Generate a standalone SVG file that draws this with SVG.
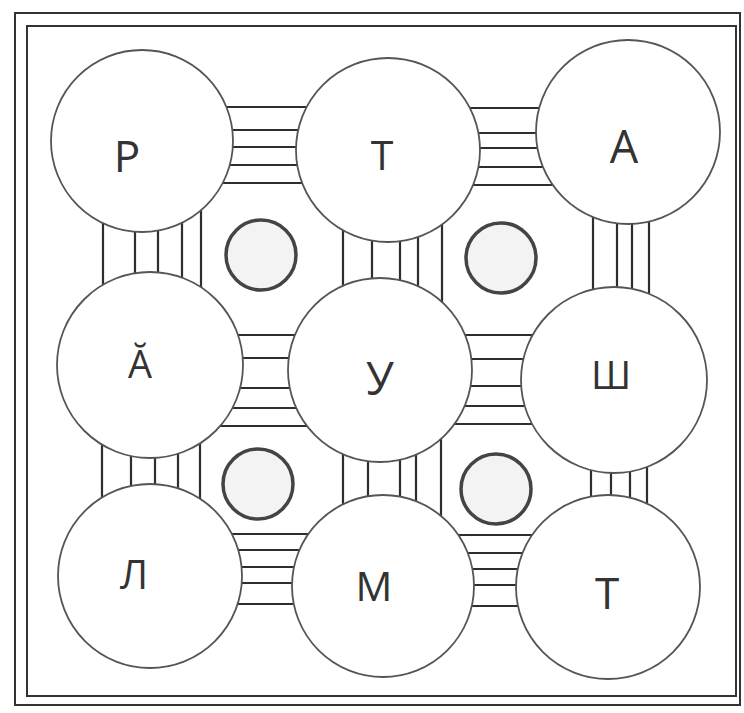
<svg xmlns="http://www.w3.org/2000/svg" width="744" height="713" viewBox="0 0 744 713">
<style>
.frame{fill:none;stroke:#333;stroke-width:2}
.hl{stroke:#2e2e2e;stroke-width:2.2;fill:none}
.big{fill:#fff;stroke:#555;stroke-width:1.8}
.dot{fill:#f3f3f3;stroke:#444;stroke-width:3.5}
.lbl{font-family:"Open Sans","Noto Sans","Liberation Sans",sans-serif;fill:#333;text-anchor:middle}
</style>
<rect width="744" height="713" fill="#fff"/>
<g id="frame">
<rect class="frame" x="15" y="13" width="725" height="692"/>
<rect class="frame" x="27" y="26" width="709" height="670" stroke-width="1.6"/>
</g>
<g id="connectors">
<path class="hl" d="M142 107H388M142 130H388M142 147H388M142 165H388M142 183H388"/>
<path class="hl" d="M388 108H628M388 133H628M388 148H628M388 167H628M388 185H628"/>
<path class="hl" d="M150 335H380M150 358H380M150 388H380M150 408H380M150 426H380"/>
<path class="hl" d="M380 335H614M380 359H614M380 386H614M380 406H614M380 424H614"/>
<path class="hl" d="M150 534H383M150 550H383M150 567H383M150 583H383M150 604H383"/>
<path class="hl" d="M383 535H608M383 553H608M383 569H608M383 585H608M383 606H608"/>
<path class="hl" d="M103 141V365M135 141V365M158 141V365M182 141V365M201 141V365"/>
<path class="hl" d="M343 150V370M372 150V370M400 150V370M418 150V370M442 150V370"/>
<path class="hl" d="M593 132V380M617 132V380M632 132V380M649 132V380"/>
<path class="hl" d="M102 365V576M131 365V576M155 365V576M178 365V576M200 365V576"/>
<path class="hl" d="M343 370V586M368 370V586M400 370V586M416 370V586M441 370V586"/>
<path class="hl" d="M591 380V587M611 380V587M630 380V587M647 380V587"/>
</g>
<g id="n-r"><circle class="big" cx="142" cy="141" r="91"/><text class="lbl" x="127" y="172" font-size="44">Р</text></g>
<g id="n-t1"><circle class="big" cx="388" cy="150" r="92"/><text class="lbl" x="382" y="170" font-size="41">Т</text></g>
<g id="n-a"><circle class="big" cx="628" cy="132" r="92"/><text class="lbl" x="624" y="163" font-size="45">А</text></g>
<g id="n-a2"><circle class="big" cx="150" cy="365" r="93"/><text class="lbl" x="140" y="378" font-size="38">Ă</text></g>
<g id="n-u"><circle class="big" cx="380" cy="370" r="92"/><text class="lbl" x="380" y="395" font-size="45">У</text></g>
<g id="n-sh"><circle class="big" cx="614" cy="380" r="93"/><text class="lbl" x="611" y="389" font-size="39">Ш</text></g>
<g id="n-l"><circle class="big" cx="150" cy="576" r="92"/><text class="lbl" x="134" y="589" font-size="40">Л</text></g>
<g id="n-m"><circle class="big" cx="383" cy="586" r="91"/><text class="lbl" x="374" y="601" font-size="41">М</text></g>
<g id="n-t2"><circle class="big" cx="608" cy="587" r="92"/><text class="lbl" x="607" y="609" font-size="44">Т</text></g>
<g id="d1"><circle class="dot" cx="261" cy="255" r="35"/></g>
<g id="d2"><circle class="dot" cx="501" cy="258" r="35"/></g>
<g id="d3"><circle class="dot" cx="258" cy="484" r="35"/></g>
<g id="d4"><circle class="dot" cx="496" cy="489" r="35"/></g>
</svg>
